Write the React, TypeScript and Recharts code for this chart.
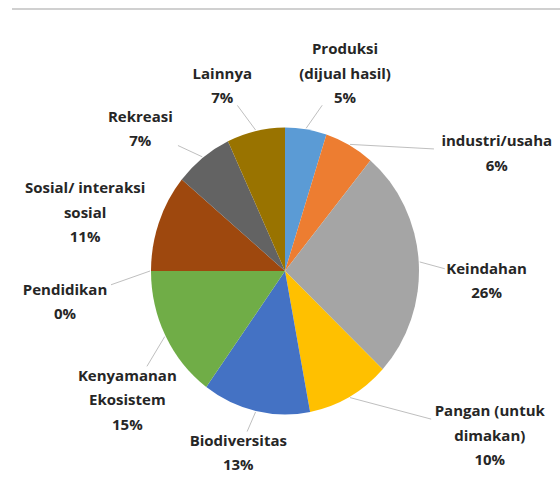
import React from 'react';
import { PieChart, Pie, Cell } from 'recharts';

const categories = [
  'Produksi\n(dijual hasil)',
  'industri/usaha',
  'Keindahan',
  'Pangan (untuk\ndimakan)',
  'Biodiversitas',
  'Kenyamanan\nEkosistem',
  'Pendidikan',
  'Sosial/ interaksi\nsosial',
  'Rekreasi',
  'Lainnya',
];
const values = [5, 6, 26, 10, 13, 15, 0, 11, 7, 7];
const colors = [
  '#5B9BD5', '#ED7D31', '#A5A5A5', '#FFC000', '#4472C4',
  '#70AD47', '#264478', '#9E480E', '#636363', '#997300',
];
// Excel pushes crowded labels sideways, so nudge them off the radial spot
const labelNudge: [number, number][] = [
  [28, 4], [113, 61], [-3, 22], [106, -16], [-2, -19],
  [25, 35], [-15, 30], [-7, 10], [-19, 19], [-18, 14],
];

const data = categories.map((name, i) => ({ name, value: values[i] }));

const RAD = Math.PI / 180;
const LINE_H = 24.5;
// the original picture is slightly squeezed sideways
const SX = 0.964;
const SY = 1.032;
const CX = 285;
const CY = 271;

const renderLabel = (props: any) => {
  const { cx, cy, midAngle, outerRadius, index, value } = props;
  const lines = [...categories[index].split('\n'), `${value}%`];
  const cos = Math.cos(-midAngle * RAD);
  const sin = Math.sin(-midAngle * RAD);
  const R = outerRadius + 66;
  const lx = cx + R * cos + labelNudge[index][0];
  const ly = cy + R * sin + labelNudge[index][1];
  const px = cx + (outerRadius + 1) * SX * cos;
  const py = cy + (outerRadius + 1) * SY * sin;
  const maxLen = Math.max(...lines.map((l) => l.length));
  const hw = (maxLen * 8.4) / 2 + 4;
  const hh = (lines.length * LINE_H) / 2 - 4;
  const dx = lx - px;
  const dy = ly - py;
  const s = Math.min(hw / Math.abs(dx || 1e-6), hh / Math.abs(dy || 1e-6));
  const ex = lx - s * dx;
  const ey = ly - s * dy;
  const top = ly - ((lines.length - 1) * LINE_H) / 2;
  return (
    <g>
      {s < 1 && (
        <line x1={px} y1={py} x2={ex} y2={ey} stroke="#bfbfbf" strokeWidth={1} />
      )}
      <text
        x={lx}
        y={top}
        textAnchor="middle"
        dominantBaseline="central"
        fill="#262626"
        fontSize={15}
        fontWeight={700}
        fontFamily="'Open Sans', sans-serif"
      >
        {lines.map((l, i) => (
          <tspan key={i} x={lx} dy={i === 0 ? 0 : LINE_H}>
            {l}
          </tspan>
        ))}
      </text>
    </g>
  );
};

export default function App() {
  return (
    <div style={{ position: 'absolute', left: 0, top: 0, width: 560, height: 491, background: '#fff' }}>
      <style>{`.recharts-pie-sector { transform: scale(${SX}, ${SY}); transform-origin: ${CX}px ${CY}px; }`}</style>
      <div style={{ position: 'absolute', left: 12, top: 8, width: 548, height: 2, background: '#d0d0d0' }} />
      <PieChart width={560} height={491} margin={{ top: 0, right: 0, bottom: 0, left: 0 }}>
        <Pie
          data={data}
          dataKey="value"
          nameKey="name"
          cx={CX}
          cy={CY}
          outerRadius={139}
          startAngle={90}
          endAngle={-270}
          stroke="none"
          label={renderLabel}
          labelLine={false}
          isAnimationActive={false}
        >
          {data.map((d, i) => (
            <Cell key={d.name} fill={colors[i]} />
          ))}
        </Pie>
      </PieChart>
    </div>
  );
}
